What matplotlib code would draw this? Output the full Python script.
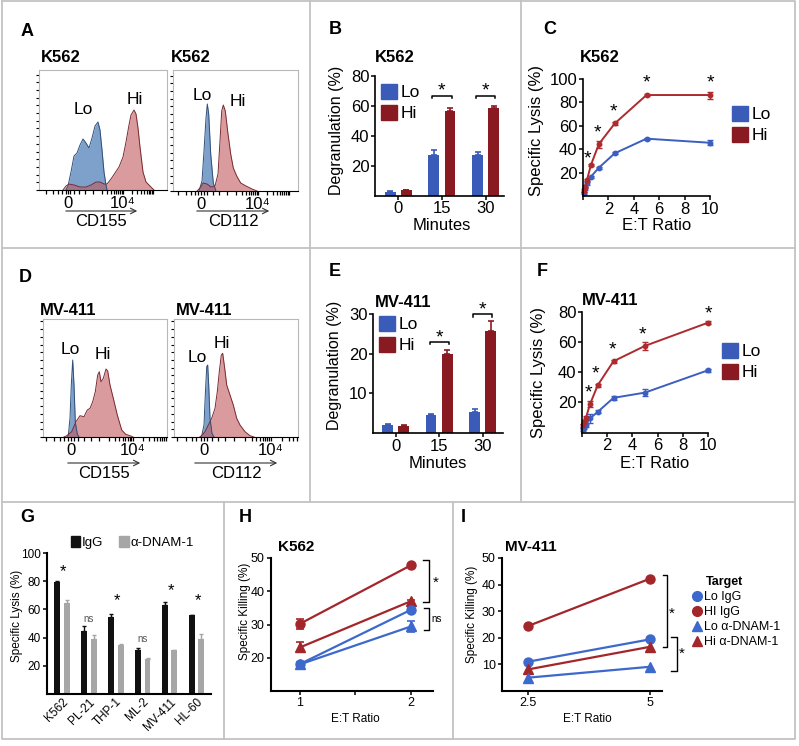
import numpy as np
import matplotlib
matplotlib.use("Agg")
from matplotlib import pyplot as plt
from matplotlib.lines import Line2D
from matplotlib.patches import Patch, FancyArrowPatch

plt.rcParams.update({
    "font.family": ["Liberation Sans", "DejaVu Sans"],
    "font.size": 10,
    "axes.linewidth": 1.2,
    "xtick.major.width": 1.1,
    "ytick.major.width": 1.1,
    "xtick.major.size": 3,
    "ytick.major.size": 3,
})

# ---- data ----
# flow histograms (axis units, arbitrary channel scale)
a155_lo_x = [27, 29, 32, 35, 38, 41, 44, 47, 50, 53, 56, 59, 61, 63, 65, 67, 68]
a155_lo_y = [0, 4, 18, 34, 37, 45, 51, 47, 42, 52, 64, 68, 60, 40, 18, 5, 0]
a155_hi_x = [24, 27, 30, 35, 41, 47, 52, 57, 61, 65, 68, 72, 76, 80, 84, 87, 90, 92, 95, 97, 99, 101, 104, 107, 111, 115]
a155_hi_y = [0, 4, 6, 5, 3, 3, 5, 8, 8, 6, 6, 11, 17, 23, 33, 48, 65, 75, 80, 76, 62, 43, 18, 8, 4, 0]
a112_lo_x = [26, 29, 31, 33, 34.3, 35.7, 37.7, 40.3, 43]
a112_lo_y = [0, 10, 40, 73, 87, 77, 37, 8, 0]
a112_hi_x = [24, 27, 30, 34, 38, 42, 45, 47, 48.7, 50.3, 52.3, 55, 57.7, 60.3, 63.7, 67.7, 73, 79, 84]
a112_hi_y = [0, 3, 8, 7, 4, 5, 17, 50, 80, 86, 80, 57, 37, 23, 15, 8, 5, 2, 0]
d155_lo_x = [24, 25.3, 27, 28.3, 29.7, 31, 32.3, 34.3, 36]
d155_lo_y = [0, 1.3, 19, 52, 77, 52, 15, 3, 0]
d155_hi_x = [21, 23.7, 28.7, 33, 37, 41, 44.3, 47, 49.7, 52.3, 54.7, 56.3, 58, 60.3, 63, 64.7, 67, 70.3, 74.3, 78.7, 82.7, 87, 90]
d155_hi_y = [0, 1.3, 5.3, 15.3, 21.3, 20.3, 27, 28.7, 35.3, 45.3, 62, 65.3, 55.3, 58.7, 68, 66, 52, 38.7, 22, 7, 2.7, 1.3, 0]
d112_lo_x = [26, 27.7, 30, 31.3, 32.7, 33.7, 34.7, 36, 38, 40]
d112_lo_y = [0, 1.3, 12, 42, 70.3, 72, 52, 18.7, 3.7, 0]
d112_hi_x = [26, 27.7, 31, 34.3, 37.7, 41, 43.3, 45.3, 47.3, 48.7, 50.7, 52.7, 56, 59.3, 62.7, 66, 71, 76, 80]
d112_hi_y = [0, 1.3, 5.3, 12, 18.7, 28.7, 45.3, 65.3, 82, 83.7, 68.7, 52, 42, 32, 18.7, 12, 5.3, 1.3, 0]

# degranulation
minutes = ["0", "15", "30"]
b_lo = [2.4, 27.1, 27.3]
b_lo_err = [0.5, 3.3, 2.0]
b_hi = [3.6, 56.7, 58.7]
b_hi_err = [0.5, 1.5, 1.1]
e_lo = [2.1, 4.5, 5.3]
e_lo_err = [0.2, 0.2, 0.7]
e_hi = [1.85, 20.0, 25.8]
e_hi_err = [0.1, 1.0, 2.4]

# specific lysis vs E:T
et = [0.078, 0.156, 0.3125, 0.625, 1.25, 2.5, 5, 10]
c_hi = [4.6, 8.0, 13.7, 26.5, 44.4, 62.0, 86.3, 86.3]
c_hi_err = [1, 1, 1, 1.2, 3, 1, 1, 3]
c_lo = [2.8, 6.5, 10.8, 16.5, 24.2, 36.5, 49.0, 45.5]
c_lo_err = [1, 1, 1, 1, 1, 1, 1, 2]
c_star_x = [0.39, 1.13, 2.4, 5, 10]
c_star_y = [32, 54, 72, 97, 97]
f_hi = [4.9, 7.0, 9.7, 18.6, 31.4, 47.3, 57.5, 72.9]
f_hi_err = [1, 1, 1, 2, 1, 1, 2.5, 1]
f_lo = [2.0, 3.1, 4.9, 9.3, 13.7, 23.0, 26.5, 41.3]
f_lo_err = [1, 1, 1, 3, 1, 1.5, 2.5, 1]
f_star_x = [0.48, 1.09, 2.4, 4.8, 10]
f_star_y = [26, 39, 55, 65, 79]

# DNAM-1 blocking
g_cells = ["K562", "PL-21", "THP-1", "ML-2", "MV-411", "HL-60"]
g_igg = [79.1, 45.0, 54.3, 31.0, 62.8, 55.7]
g_igg_err = [0.8, 2.9, 2.6, 1.5, 2.8, 0.5]
g_dnam = [64.5, 39.1, 34.4, 24.6, 31.0, 39.3]
g_dnam_err = [1.9, 2.4, 0.9, 1.2, 0.5, 3.6]
g_sig = ["*", "ns", "*", "ns", "*", "*"]
g_sig_y = [87, 53, 66, 39, 73, 66]

h_et = [1, 2]
h_hi_igg = [30.2, 47.8]
h_hi_igg_err = [1.5, 0.5]
h_hi_dnam = [23.1, 37.0]
h_hi_dnam_err = [1.5, 0.5]
h_lo_igg = [18.1, 34.4]
h_lo_igg_err = [0.5, 0.7]
h_lo_dnam = [18.0, 29.4]
h_lo_dnam_err = [0.5, 1.8]

i_et = [2.5, 5]
i_hi_igg = [24.4, 42.2]
i_lo_igg = [11.0, 19.4]
i_hi_dnam = [8.1, 16.6]
i_lo_dnam = [5.0, 9.1]

BLUE = "#3a5bb8"
RED = "#8a1a22"
LBLUE = "#3b5fc0"
LRED = "#ad2a2e"
W, H = 799, 746

fig = plt.figure(figsize=(W / 100, H / 100), dpi=100)


def px_axes(x0, y0, x1, y1):
    return fig.add_axes([x0 / W, 1 - y1 / H, (x1 - x0) / W, (y1 - y0) / H])


def ftext(x, y, s, **kw):
    kw.setdefault("ha", "center")
    kw.setdefault("va", "center")
    fig.text(x / W, 1 - y / H, s, **kw)


def fline(xs, ys, **kw):
    fig.add_artist(Line2D([x / W for x in xs], [1 - y / H for y in ys],
                          transform=fig.transFigure, **kw))


# panel frames
grey = dict(color="#c3c3c3", lw=1.3)
fline([2, 795, 795, 2, 2], [1, 1, 739, 739, 1], **grey)
fline([2, 795], [248, 248], **grey)
fline([2, 795], [502, 502], **grey)
fline([310, 310], [1, 502], **grey)
fline([521, 521], [1, 502], **grey)
fline([224, 224], [502, 739], **grey)
fline([453, 453], [502, 739], **grey)

for lab, x, y in [("A", 27, 32), ("B", 335, 30), ("C", 550, 30), ("D", 25, 277),
                  ("E", 335, 272), ("F", 542, 272), ("G", 27, 517), ("H", 245, 517),
                  ("I", 463, 517)]:
    ftext(x, y, lab, fontsize=13, fontweight="bold")


def flow(box, xmax, ymax, lo_x, lo_y, hi_x, hi_y, zero, e4, lo_at, hi_at):
    ax = px_axes(*box)
    ax.fill_between(lo_x, lo_y, color="#6f97c6", alpha=0.9, lw=0)
    ax.plot(lo_x, lo_y, color="#2f4f7a", lw=0.7)
    ax.fill_between(hi_x, hi_y, color="#c0595e", alpha=0.6, lw=0)
    ax.plot(hi_x, hi_y, color="#7a2a30", lw=0.7)
    ax.set_xlim(0, xmax)
    ax.set_ylim(0, ymax)
    for s in ax.spines.values():
        s.set_color("#b8b8b8")
        s.set_linewidth(0.8)
    ax.spines["bottom"].set_color("k")
    ax.set_yticks(np.arange(0, ymax, 7.7))
    ax.set_yticklabels([])
    ax.tick_params(axis="y", length=2.5, width=0.8)
    ax.set_xticks([zero, e4], ["0", "10⁴"])
    dec = (e4 - zero) * 0.55
    p3 = e4 - dec
    minor = [p3 + dec * np.log10(k) for k in range(1, 10)]
    minor += [e4 + dec * np.log10(k) for k in range(2, 11)]
    minor += [zero + (p3 - zero) * f for f in (-0.9, -0.6, -0.4, -0.25, -0.1, 0.1, 0.25, 0.45, 0.7)]
    ax.set_xticks([m for m in minor if 0 < m < xmax], minor=True)
    ax.tick_params(axis="x", which="both", length=3, width=0.9, pad=1, labelsize=12)
    ax.text(*lo_at, "Lo", ha="center", va="center", fontsize=12.5)
    ax.text(*hi_at, "Hi", ha="center", va="center", fontsize=12.5)
    return ax


def flow_axis_label(x0, x1, y, text):
    fig.add_artist(FancyArrowPatch(
        (x0 / W, 1 - y / H), (x1 / W, 1 - y / H), transform=fig.transFigure,
        arrowstyle="->,head_length=4,head_width=2", lw=0.8, color="#333333",
        mutation_scale=1))
    ftext((x0 + x1) / 2, y + 11, text, fontsize=12)


# A
flow((39, 70, 167, 190), 128, 120, a155_lo_x, a155_lo_y, a155_hi_x, a155_hi_y,
     29, 84, (44, 80), (96, 91))
flow((173, 70, 298, 191), 125, 121, a112_lo_x, a112_lo_y, a112_hi_x, a112_hi_y,
     28, 85, (29, 96), (65, 89))
ftext(41, 58, "K562", ha="left", fontsize=12, fontweight="bold")
ftext(171, 58, "K562", ha="left", fontsize=12, fontweight="bold")
flow_axis_label(63, 140, 211, "CD155")
flow_axis_label(194, 272, 211, "CD112")

# D
flow((43, 319, 167, 437), 124, 118, d155_lo_x, d155_lo_y, d155_hi_x, d155_hi_y,
     28, 90, (27, 87), (60, 82))
flow((174, 319, 298, 437), 124, 118, d112_lo_x, d112_lo_y, d112_hi_x, d112_hi_y,
     30, 97, (23, 79), (48, 93))
ftext(40, 310, "MV-411", ha="left", fontsize=12, fontweight="bold")
ftext(176, 310, "MV-411", ha="left", fontsize=12, fontweight="bold")
flow_axis_label(65, 143, 463, "CD155")
flow_axis_label(192, 280, 463, "CD112")


def clean(ax):
    ax.spines["top"].set_visible(False)
    ax.spines["right"].set_visible(False)


def square_legend(ax, x, y, fs=12.5):
    ax.legend(handles=[Patch(color=BLUE, label="Lo"), Patch(color=RED, label="Hi")],
              loc="upper left", bbox_to_anchor=(x / W, 1 - y / H),
              bbox_transform=fig.transFigure, frameon=False, fontsize=fs,
              handlelength=0.95, handleheight=0.95, handletextpad=0.2,
              labelspacing=0.25, borderpad=0, borderaxespad=0)


def degran(box, lo, lo_err, hi, hi_err, xlim, ymax, yticks, brackets, leg):
    ax = px_axes(*box)
    x = np.arange(len(minutes))
    z = np.zeros(len(x))
    ax.bar(x - 0.185, lo, 0.25, color=BLUE, yerr=[z, lo_err], capsize=2.5,
           error_kw=dict(ecolor=BLUE, elinewidth=1.2, capthick=1.2))
    ax.bar(x + 0.185, hi, 0.25, color=RED, yerr=[z, hi_err], capsize=2.5,
           error_kw=dict(ecolor=RED, elinewidth=1.2, capthick=1.2))
    ax.set_xlim(*xlim)
    ax.set_ylim(0, ymax)
    ax.set_yticks(yticks)
    ax.set_xticks(x, minutes)
    ax.tick_params(labelsize=12, pad=1)
    clean(ax)
    for g, yb in brackets:
        d = ymax * 0.022
        ax.plot([g - 0.22, g - 0.22, g + 0.22, g + 0.22], [yb - d, yb, yb, yb - d],
                color="k", lw=1.1, clip_on=False)
        ax.text(g, yb + ymax * 0.035, "*", ha="center", va="center", fontsize=14,
                clip_on=False)
    square_legend(ax, *leg)
    return ax


# B
degran((375, 75.7, 504, 195.7), b_lo, b_lo_err, b_hi, b_hi_err, (-0.53, 2.42), 80,
       [20, 40, 60, 80], [(1, 66.7), (2, 66.7)], (381, 84))
ftext(375, 57, "K562", ha="left", fontsize=12, fontweight="bold")
ftext(442, 225, "Minutes", fontsize=12)
ftext(337, 130, "Degranulation (%)", fontsize=11.5, rotation=90)

# E
degran((373, 314, 503, 433), e_lo, e_lo_err, e_hi, e_hi_err, (-0.52, 2.47), 30,
       [10, 20, 30], [(1, 23), (2, 30)], (379, 316))
ftext(375, 302, "MV-411", ha="left", fontsize=12, fontweight="bold")
ftext(438, 463, "Minutes", fontsize=12)
ftext(335, 365, "Degranulation (%)", fontsize=11.5, rotation=90)


def lysis(box, hi, hi_err, lo, lo_err, ymax, yticks, sx, sy, leg):
    ax = px_axes(*box)
    ax.errorbar(et, lo, yerr=lo_err, color=LBLUE, marker="o", ms=3.2, lw=1.4,
                capsize=2, elinewidth=1, capthick=1, clip_on=False)
    ax.errorbar(et, hi, yerr=hi_err, color=LRED, marker="o", ms=3.2, lw=1.4,
                capsize=2, elinewidth=1, capthick=1, clip_on=False)
    ax.set_xlim(0, 10)
    ax.set_ylim(0, ymax)
    ax.set_yticks(yticks)
    ax.set_xticks([0, 2, 4, 6, 8, 10], ["", "2", "4", "6", "8", "10"])
    ax.tick_params(labelsize=12, pad=1)
    clean(ax)
    for x, y in zip(sx, sy):
        ax.text(x, y, "*", ha="center", va="center", fontsize=14, clip_on=False)
    square_legend(ax, *leg)
    return ax


# C
lysis((583, 79, 710, 196), c_hi, c_hi_err, c_lo, c_lo_err, 100, [20, 40, 60, 80, 100],
      c_star_x, c_star_y, (732, 106))
ftext(580, 58, "K562", ha="left", fontsize=12, fontweight="bold")
ftext(657, 225, "E:T Ratio", fontsize=12)
ftext(536, 130, "Specific Lysis (%)", fontsize=12, rotation=90)

# F
lysis((582, 312, 708, 432.5), f_hi, f_hi_err, f_lo, f_lo_err, 80, [20, 40, 60, 80],
      f_star_x, f_star_y, (722, 343))
ftext(582, 300, "MV-411", ha="left", fontsize=12, fontweight="bold")
ftext(655, 464, "E:T Ratio", fontsize=12)
ftext(538, 372, "Specific Lysis (%)", fontsize=12, rotation=90)

# G
ax = px_axes(46.7, 553, 211, 694)
x = np.arange(len(g_cells))
z = np.zeros(len(x))
ax.bar(x - 0.18, g_igg, 0.22, color="#111111", yerr=[z, g_igg_err], capsize=1.5,
       error_kw=dict(ecolor="#111111", elinewidth=1, capthick=1))
ax.bar(x + 0.18, g_dnam, 0.22, color="#a6a6a6", yerr=[z, g_dnam_err], capsize=1.5,
       error_kw=dict(ecolor="#a6a6a6", elinewidth=1, capthick=1))
ax.set_xlim(-0.57, 5.54)
ax.set_ylim(0, 100)
ax.set_yticks([20, 40, 60, 80, 100])
ax.set_xticks(x, g_cells, rotation=45, ha="right", rotation_mode="anchor")
ax.tick_params(labelsize=8.5, pad=1.5)
ax.tick_params(axis="x", length=0)
ax.spines["left"].set_linewidth(1.5)
ax.spines["bottom"].set_linewidth(1.5)
clean(ax)
for i, (s, y) in enumerate(zip(g_sig, g_sig_y)):
    if s == "*":
        ax.text(i + 0.05, y, s, ha="center", va="center", fontsize=12)
    else:
        ax.text(i, y, s, ha="center", va="center", fontsize=7, color="#555555")
ax.legend(handles=[Patch(color="#111111", label="IgG"), Patch(color="#a6a6a6", label="α-DNAM-1")],
          loc="upper left", bbox_to_anchor=(71 / W, 1 - 536 / H), bbox_transform=fig.transFigure,
          ncol=2, frameon=False, fontsize=9.5, handlelength=0.7, handleheight=0.95,
          handletextpad=0.15, columnspacing=1.2, borderpad=0, borderaxespad=0)
ftext(17, 616, "Specific Lysis (%)", fontsize=8.5, rotation=90)

# H
HRED = "#a3262b"
HBLUE = "#3d68cc"
ax = px_axes(271, 558, 433, 691)
for vals, err, col, mk in [(h_hi_igg, h_hi_igg_err, HRED, "o"),
                           (h_hi_dnam, h_hi_dnam_err, HRED, "^"),
                           (h_lo_dnam, h_lo_dnam_err, HBLUE, "^"),
                           (h_lo_igg, h_lo_igg_err, HBLUE, "o")]:
    ax.errorbar(h_et, vals, yerr=err, color=col, marker=mk, ms=6.5, lw=1.6,
                capsize=3, elinewidth=1.2, capthick=1.2)
ax.set_xlim(0.74, 2.2)
ax.set_ylim(10, 50)
ax.set_yticks([20, 30, 40, 50])
ax.set_xticks([1, 1.5, 2], ["1", "", "2"])
ax.tick_params(labelsize=9, pad=1.5)
ax.spines["left"].set_linewidth(1.5)
ax.spines["bottom"].set_linewidth(1.5)
clean(ax)
ax.plot([2.11, 2.16, 2.16, 2.11], [49.4, 49.4, 36.7, 36.7], color="k", lw=1, clip_on=False)
ax.text(2.22, 42.5, "*", ha="center", va="center", fontsize=11, clip_on=False)
ax.plot([2.12, 2.16, 2.16, 2.12], [35.0, 35.0, 28.2, 28.2], color="k", lw=1, clip_on=False)
ax.text(2.185, 31.6, "ns", ha="left", va="center", fontsize=7, clip_on=False)
ftext(278, 547, "K562", ha="left", fontsize=11, fontweight="bold")
ftext(355, 719, "E:T Ratio", fontsize=8.5)
ftext(245, 611, "Specific Killing (%)", fontsize=8.5, rotation=90)

# I
ax = px_axes(502, 558, 662, 691)
for vals, col, mk in [(i_hi_igg, HRED, "o"), (i_lo_igg, HBLUE, "o"),
                      (i_hi_dnam, HRED, "^"), (i_lo_dnam, HBLUE, "^")]:
    ax.plot(i_et, vals, color=col, marker=mk, ms=6.5, lw=1.6, clip_on=False)
ax.set_xlim(1.97, 5.25)
ax.set_ylim(0, 50)
ax.set_yticks([10, 20, 30, 40, 50])
ax.set_xticks([2.5, 5], ["2.5", "5"])
ax.tick_params(labelsize=9, pad=1.5)
ax.spines["left"].set_linewidth(1.5)
ax.spines["bottom"].set_linewidth(1.5)
clean(ax)
ax.plot([5.27, 5.35, 5.35, 5.27], [43.5, 43.5, 16.6, 16.6], color="k", lw=1, clip_on=False)
ax.text(5.44, 29.1, "*", ha="center", va="center", fontsize=11, clip_on=False)
ax.plot([5.44, 5.55, 5.55, 5.44], [20.4, 20.4, 7.5, 7.5], color="k", lw=1, clip_on=False)
ax.text(5.66, 14.1, "*", ha="center", va="center", fontsize=11, clip_on=False)
ftext(505, 547, "MV-411", ha="left", fontsize=11, fontweight="bold")
ftext(587, 719, "E:T Ratio", fontsize=8.5)
ftext(472, 614, "Specific Killing (%)", fontsize=8.5, rotation=90)
ftext(724, 582, "Target", fontsize=9, fontweight="bold")
handles = [Line2D([], [], ls="none", marker="o", ms=7, color=HBLUE),
           Line2D([], [], ls="none", marker="o", ms=7, color=HRED),
           Line2D([], [], ls="none", marker="^", ms=7, color=HBLUE),
           Line2D([], [], ls="none", marker="^", ms=7, color=HRED)]
fig.legend(handles, ["Lo IgG", "HI IgG", "Lo α-DNAM-1", "Hi α-DNAM-1"],
           loc="upper left", bbox_to_anchor=(692 / W, 1 - 591 / H), frameon=False,
           fontsize=9, handlelength=0.8, handletextpad=0.2, labelspacing=0.25,
           borderpad=0, borderaxespad=0)

fig.savefig("out.png", dpi=100)
